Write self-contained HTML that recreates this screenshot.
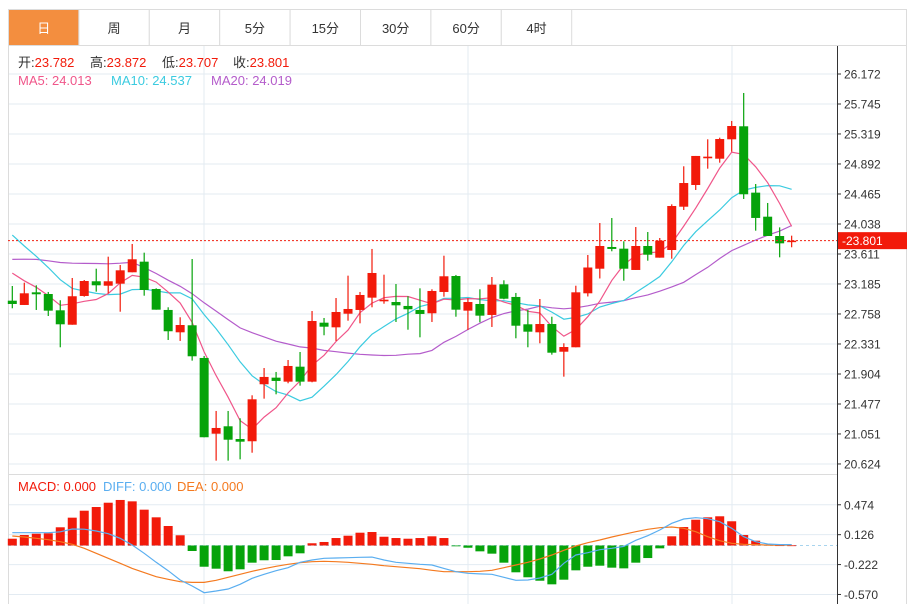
<!DOCTYPE html>
<html><head><meta charset="utf-8">
<style>
body{margin:0;background:#fff;font-family:"Liberation Sans","Noto Sans CJK SC",sans-serif;}
#wrap{position:relative;width:913px;height:604px;overflow:hidden;}
svg text{font-family:"Liberation Sans","Noto Sans CJK SC",sans-serif;}
</style></head>
<body>
<div id="wrap">
<svg id="chart" width="913" height="604"></svg>
</div>
<script>
const opens=[22.947,22.886,23.066,23.042,22.810,22.605,23.014,23.223,23.160,23.189,23.351,23.502,23.113,22.815,22.497,22.597,22.132,21.055,21.160,20.979,20.947,21.758,21.852,21.795,22.008,21.795,22.634,22.568,22.762,22.815,22.990,22.938,22.928,22.872,22.815,22.768,23.071,23.298,22.805,22.900,22.744,23.180,23.000,22.611,22.497,22.615,22.221,22.284,23.052,23.402,23.711,23.687,23.384,23.725,23.559,23.668,24.284,24.593,24.973,24.967,25.243,25.428,24.484,24.142,23.867,23.782];
const closes=[22.900,23.052,23.038,22.805,22.611,23.010,23.227,23.166,23.223,23.379,23.536,23.099,22.819,22.512,22.601,22.156,21.004,21.136,20.969,20.941,21.544,21.862,21.805,22.018,21.795,22.658,22.577,22.786,22.829,23.028,23.341,22.961,22.881,22.825,22.758,23.085,23.294,22.819,22.928,22.734,23.175,22.975,22.591,22.506,22.615,22.207,22.288,23.066,23.419,23.725,23.683,23.402,23.725,23.601,23.801,24.294,24.621,25.006,24.996,25.247,25.432,24.461,24.124,23.867,23.763,23.801];
const highs=[23.156,23.203,23.166,23.071,22.953,23.270,23.241,23.402,23.573,23.455,23.754,23.630,23.123,22.853,22.711,23.540,22.160,21.378,21.378,21.274,21.601,21.989,21.933,22.103,22.217,22.800,22.701,22.985,23.303,23.071,23.683,23.317,23.184,23.010,23.123,23.109,23.587,23.313,22.981,23.109,23.284,23.237,23.057,22.815,22.971,22.719,22.341,23.160,23.597,24.052,24.123,23.792,23.995,23.924,23.839,24.318,24.859,25.006,25.243,25.266,25.504,25.902,24.607,24.337,23.990,23.872];
const lows=[22.839,22.886,22.815,22.729,22.284,22.605,23.004,23.075,23.052,22.790,23.351,23.018,22.819,22.388,22.374,22.094,21.004,20.671,20.671,20.690,20.784,21.553,21.615,21.772,21.738,21.786,22.455,22.374,22.662,22.625,22.853,22.904,22.644,22.534,22.426,22.644,23.004,22.719,22.530,22.640,22.573,22.967,22.412,22.284,22.341,22.179,21.866,22.284,23.007,23.263,23.650,23.231,23.384,23.516,23.559,23.544,24.237,24.522,24.825,24.910,25.067,24.394,23.943,23.867,23.564,23.707];
const prevCloses=[23.0,23.1,23.2,23.1,23.2,23.3,23.2,23.3,23.2,23.3,24.6,24.5,24.4,24.35,24.25,23.6,23.5,23.4,23.3];
const macdHist=[0.079,0.122,0.137,0.142,0.212,0.324,0.405,0.448,0.498,0.530,0.514,0.417,0.328,0.227,0.119,-0.064,-0.247,-0.270,-0.300,-0.277,-0.200,-0.172,-0.169,-0.126,-0.091,0.026,0.041,0.087,0.114,0.149,0.157,0.102,0.087,0.079,0.087,0.107,0.087,-0.005,-0.026,-0.068,-0.095,-0.200,-0.312,-0.370,-0.410,-0.452,-0.398,-0.289,-0.247,-0.235,-0.258,-0.266,-0.200,-0.146,-0.033,0.107,0.215,0.300,0.328,0.340,0.282,0.122,0.056,0.010,0.003,0.002];
const diffVals=[0.149,0.149,0.149,0.149,0.160,0.192,0.190,0.169,0.137,0.084,0.006,-0.091,-0.196,-0.293,-0.402,-0.471,-0.549,-0.530,-0.506,-0.452,-0.382,-0.335,-0.293,-0.258,-0.196,-0.169,-0.149,-0.146,-0.142,-0.137,-0.135,-0.169,-0.196,-0.207,-0.219,-0.227,-0.266,-0.305,-0.324,-0.331,-0.335,-0.370,-0.405,-0.402,-0.378,-0.335,-0.207,-0.111,-0.084,-0.049,-0.033,-0.010,0.060,0.114,0.180,0.258,0.308,0.324,0.312,0.277,0.200,0.102,0.044,0.017,0.010,0.010];
const deaVals=[0.111,0.099,0.084,0.068,0.044,0.014,-0.033,-0.091,-0.149,-0.207,-0.266,-0.316,-0.363,-0.394,-0.421,-0.429,-0.429,-0.405,-0.370,-0.335,-0.300,-0.270,-0.242,-0.219,-0.200,-0.188,-0.184,-0.188,-0.196,-0.207,-0.219,-0.235,-0.247,-0.258,-0.270,-0.289,-0.305,-0.305,-0.305,-0.300,-0.289,-0.258,-0.227,-0.196,-0.157,-0.111,-0.056,-0.006,0.033,0.064,0.099,0.130,0.161,0.189,0.207,0.215,0.200,0.161,0.102,0.056,0.026,0.014,0.010,0.005,0.005,0.005];
const priceTicks=[26.172,25.745,25.319,24.892,24.465,24.038,23.611,23.185,22.758,22.331,21.904,21.477,21.051,20.624];
const macdTicks=[0.474,0.126,-0.222,-0.570];
const tabs=["日","周","月","5分","15分","30分","60分","4时"];
const lastPrice=23.801;

const NS="http://www.w3.org/2000/svg";
const svg=document.getElementById('chart');
function mk(tag,attrs,parent,name,inter){const e=document.createElementNS(NS,tag);for(const k in attrs)e.setAttribute(k,attrs[k]);(parent||svg).appendChild(e);


return e;}
const xOf=i=>12.3+i*11.99;
const yP=p=>74+(26.172-p)/0.014227;
const yM=v=>545.5-v/0.01164;
const RED="#f21a0a",GREEN="#06a30a";

mk('rect',{x:8.5,y:9.5,width:898,height:600,fill:'none',stroke:'#dcdcdc'},svg,'outer-frame');
tabs.forEach((t,i)=>{const x=8.5+i*70.4;
 mk('rect',{x:x,y:9.5,width:70.4,height:36,fill:i===0?'#f38e3f':'#fff',stroke:'#dcdcdc'},svg,'tab-'+(i+1),true);
 const tx=mk('text',{x:x+35.2,y:33,'text-anchor':'middle','font-size':13,fill:i===0?'#fff':'#333'},svg,'tab-label-'+(i+1),true);tx.textContent=t;});
mk('line',{x1:8,y1:45.5,x2:907,y2:45.5,stroke:'#dcdcdc'},svg,'tab-bar-bottom');
priceTicks.forEach(p=>{mk('line',{x1:8,x2:837,y1:yP(p),y2:yP(p),stroke:'#e3ebf2'},svg,'price-gridline');});
macdTicks.forEach(v=>{mk('line',{x1:8,x2:837,y1:yM(v),y2:yM(v),stroke:'#e3ebf2'},svg,'macd-gridline');});
[204,468,732].forEach(x=>{mk('line',{x1:x,x2:x,y1:46,y2:604,stroke:'#e3ebf2'},svg,'vertical-gridline');});
mk('line',{x1:8.5,x2:8.5,y1:46,y2:604,stroke:'#dcdcdc'},svg,'left-border');
mk('line',{x1:8,x2:837,y1:474.5,y2:474.5,stroke:'#dcdcdc'},svg,'panel-divider');
mk('line',{x1:837.5,x2:837.5,y1:46,y2:604,stroke:'#333'},svg,'y-axis-line');
priceTicks.forEach(p=>{const y=yP(p);mk('line',{x1:837,x2:841,y1:y,y2:y,stroke:'#333'},svg,'price-tick');
 const t=mk('text',{x:844,y:y+4.5,'font-size':12,fill:'#333'},svg,'price-tick-label');t.textContent=p.toFixed(3);});
macdTicks.forEach(v=>{const y=yM(v);mk('line',{x1:837,x2:841,y1:y,y2:y,stroke:'#333'},svg,'macd-tick');
 const t=mk('text',{x:844,y:y+4.5,'font-size':12,fill:'#333'},svg,'macd-tick-label');t.textContent=v.toFixed(3);});
const all=prevCloses.concat(closes);
function ma(n){return closes.map((c,i)=>{const k=i+prevCloses.length;let s=0;for(let j=k-n+1;j<=k;j++)s+=all[j];return s/n;});}
[[20,'#b45ccb','ma20-line'],[10,'#3bcbe0','ma10-line'],[5,'#f0568a','ma5-line']].forEach(([n,c,nm])=>{
 const v=ma(n);mk('polyline',{points:v.map((p,i)=>xOf(i)+','+yP(p).toFixed(1)).join(' '),fill:'none',stroke:c,'stroke-width':1.2},svg,nm);});
closes.forEach((c,i)=>{const o=opens[i];const up=c>=o;const col=up?RED:GREEN;const x=xOf(i);
 const g=mk('g',{},svg,'candle-'+(i+1));
 mk('line',{x1:x,x2:x,y1:yP(highs[i]),y2:yP(lows[i]),stroke:col,'stroke-width':1.2},g,'candle-wick');
 const t=Math.min(yP(o),yP(c)),b=Math.max(yP(o),yP(c));
 mk('rect',{x:x-4.5,y:t,width:9,height:Math.max(b-t,1.5),fill:col},g,'candle-body');});
mk('line',{x1:8,x2:837,y1:yP(lastPrice),y2:yP(lastPrice),stroke:'#f02010','stroke-dasharray':'2,2'},svg,'last-price-line');
mk('rect',{x:838,y:yP(lastPrice)-8.5,width:69,height:17,fill:'#f21a0a'},svg,'last-price-badge');
const lp=mk('text',{x:842,y:yP(lastPrice)+4.5,'font-size':12,fill:'#fff'},svg,'last-price-label');lp.textContent='-'+lastPrice.toFixed(3);
mk('line',{x1:8,x2:837,y1:yM(0),y2:yM(0),stroke:'#a8d4ee','stroke-dasharray':'3,3'},svg,'macd-zero-line');
macdHist.forEach((v,i)=>{const x=xOf(i);const y0=yM(0),y1=yM(v);
 mk('rect',{x:x-4.5,y:Math.min(y0,y1),width:9,height:Math.max(Math.abs(y1-y0),0.8),fill:v>=0?RED:GREEN},svg,'macd-bar-'+(i+1));});
mk('polyline',{points:deaVals.map((v,i)=>xOf(i)+','+yM(v).toFixed(1)).join(' '),fill:'none',stroke:'#f47a20','stroke-width':1.2},svg,'dea-line');
mk('polyline',{points:diffVals.map((v,i)=>xOf(i)+','+yM(v).toFixed(1)).join(' '),fill:'none',stroke:'#5aaef0','stroke-width':1.2},svg,'diff-line');
function seg(x,y,label,val,lc,vc,name){const t=mk('text',{x:x,y:y,'font-size':13},svg,name);
 const a=document.createElementNS(NS,'tspan');a.setAttribute('fill',lc);a.textContent=label;t.appendChild(a);
 const b=document.createElementNS(NS,'tspan');b.setAttribute('fill',vc);b.textContent=val;t.appendChild(b);}
seg(18,67,"开:","23.782","#333","#f21a0a",'open-info');
seg(90,67,"高:","23.872","#333","#f21a0a",'high-info');
seg(162,67,"低:","23.707","#333","#f21a0a",'low-info');
seg(233,67,"收:","23.801","#333","#f21a0a",'close-info');
seg(18,85,"MA5: ","24.013","#f0568a","#f0568a",'ma5-legend');
seg(111,85,"MA10: ","24.537","#3bcbe0","#3bcbe0",'ma10-legend');
seg(211,85,"MA20: ","24.019","#b45ccb","#b45ccb",'ma20-legend');
seg(18,491,"MACD: ","0.000","#f21a0a","#f21a0a",'macd-legend');
seg(103,491,"DIFF: ","0.000","#5aaef0","#5aaef0",'diff-legend');
seg(177,491,"DEA: ","0.000","#f47a20","#f47a20",'dea-legend');
</script>
</body></html>
